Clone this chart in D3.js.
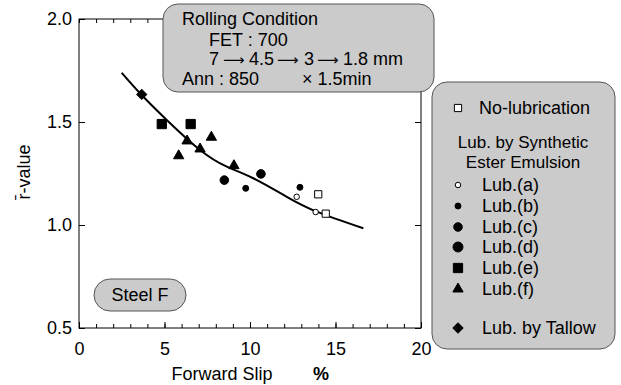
<!DOCTYPE html>
<html>
<head>
<meta charset="utf-8">
<title>r-value vs forward slip</title>
<script src="https://cdn.jsdelivr.net/npm/d3@7"></script>
<style>
  body { margin: 0; background: #fff; }
  svg { display: block; font-family: "Liberation Sans", Arial, sans-serif; }
  .box { fill: #cbcbcb; stroke: #555; stroke-width: 1; }
  .arrow { font-family: "DejaVu Sans", sans-serif; font-size: 15px; }
</style>
</head>
<body>
<script>
// data: [forward slip %, r-value]
var noLub = [[13.99, 1.149], [14.43, 1.055]];
var lubA = [[12.73, 1.137], [13.84, 1.063]];
var lubB = [[9.75, 1.178], [12.92, 1.183]];
var lubC = [[8.5, 1.218], [10.64, 1.248]];
var lubE = [[4.84, 1.49], [6.53, 1.49]];
var lubF = [[5.83, 1.336], [6.32, 1.408], [7.08, 1.369], [7.74, 1.426], [9.06, 1.288]];
var tallow = [[3.67, 1.634]];
// fitted curve as drawn
var fitCurve = [[2.5, 1.739], [3.61, 1.636], [5.13, 1.51], [7.08, 1.364], [8.64, 1.283],
                [10.19, 1.227], [12.15, 1.137], [13.9, 1.065], [16.63, 0.984]];

var xTicks = [0, 5, 10, 15, 20];
var yTicks = [0.5, 1.0, 1.5, 2.0];
var passes = ["7", "4.5", "3", "1.8 mm"];
var legendLabels = ["No-lubrication", "Lub.(a)", "Lub.(b)", "Lub.(c)", "Lub.(d)", "Lub.(e)", "Lub.(f)", "Lub. by Tallow"];

var svg = d3.select("body").append("svg").attr("width", 621).attr("height", 385);

var x = d3.scaleLinear().domain([0, 20]).range([79, 421]);
var y = d3.scaleLinear().domain([0.5, 2.0]).range([328, 19]);

// frame
svg.append("rect").attr("x", 79).attr("y", 19).attr("width", 342).attr("height", 309)
  .attr("fill", "none").attr("stroke", "#000").attr("stroke-width", 1);

function style(g) {
  g.select(".domain").remove();
  g.selectAll("text").attr("font-size", 18).attr("font-family", "Liberation Sans, Arial, sans-serif").attr("fill", "#000");
  g.selectAll("line").attr("stroke", "#000");
}

// bottom minor + major
svg.append("g").attr("transform", "translate(0,328)")
  .call(d3.axisBottom(x).tickValues(d3.range(0, 21)).tickSize(-4).tickFormat(""))
  .call(style);
svg.append("g").attr("transform", "translate(0,328)")
  .call(d3.axisBottom(x).tickValues(xTicks).tickSize(-6).tickPadding(14).tickFormat(d3.format("d")))
  .call(style);
// top minor
svg.append("g").attr("transform", "translate(0,19)")
  .call(d3.axisTop(x).tickValues(d3.range(0, 21)).tickSize(-4).tickFormat(""))
  .call(style);
// left and right
svg.append("g").attr("transform", "translate(79,0)")
  .call(d3.axisLeft(y).tickValues(yTicks).tickSize(-6).tickPadding(7).tickFormat(d3.format(".1f")))
  .call(style);
svg.append("g").attr("transform", "translate(421,0)")
  .call(d3.axisRight(y).tickValues(yTicks).tickSize(-6).tickFormat(""))
  .call(style);

// axis titles
svg.append("text").attr("x", 222).attr("y", 380).attr("text-anchor", "middle")
  .attr("font-size", 18).text("Forward Slip");
svg.append("text").attr("x", 313).attr("y", 380).attr("font-size", 18)
  .attr("font-weight", "bold").text("%");
svg.append("text").attr("transform", "translate(30,172) rotate(-90)").attr("text-anchor", "middle")
  .attr("font-size", 18).text("r\u0304-value");

// fitted curve
svg.append("path").datum(fitCurve)
  .attr("d", d3.line().x(function(d) { return x(d[0]); }).y(function(d) { return y(d[1]); }).curve(d3.curveNatural))
  .attr("fill", "none").attr("stroke", "#000").attr("stroke-width", 2);

// markers
function sym(type, size, open, rot) {
  return { path: d3.symbol().type(type).size(size)(), open: open, rot: rot || 0 };
}
var mk = {
  noLub: sym(d3.symbolSquare, 52, true),
  a: sym(d3.symbolCircle, 24, true),
  b: sym(d3.symbolCircle, 28, false),
  c: sym(d3.symbolCircle, 58, false),
  d: sym(d3.symbolCircle, 78, false),
  e: sym(d3.symbolSquare, 86, false),
  f: sym(d3.symbolTriangle, 46, false),
  tallow: sym(d3.symbolSquare, 50, false, 45)
};

function drawPoints(data, m) {
  svg.append("g").selectAll("path").data(data).enter().append("path")
    .attr("d", m.path)
    .attr("transform", function(d) { return "translate(" + x(d[0]) + "," + y(d[1]) + ") rotate(" + m.rot + ")"; })
    .attr("fill", m.open ? "#fff" : "#000")
    .attr("stroke", "#000").attr("stroke-width", 1);
}
drawPoints(lubC, mk.c);
drawPoints(lubB, mk.b);
drawPoints(lubF, mk.f);
drawPoints(lubE, mk.e);
drawPoints(tallow, mk.tallow);
drawPoints(lubA, mk.a);
drawPoints(noLub, mk.noLub);

// rolling condition box
svg.append("rect").attr("class", "box").attr("x", 163).attr("y", 4).attr("width", 271).attr("height", 88).attr("rx", 15);
svg.append("text").attr("x", 182).attr("y", 25).attr("font-size", 18).text("Rolling Condition");
svg.append("text").attr("x", 209).attr("y", 46).attr("font-size", 18).text("FET : 700");
var passX = [209, 249, 304, 343], arrowX = [223, 277, 317];
var passLine = svg.append("text").attr("y", 65).attr("font-size", 18);
passes.forEach(function(p, i) {
  if (i > 0) passLine.append("tspan").attr("class", "arrow").attr("x", arrowX[i - 1]).text("\u27f6");
  passLine.append("tspan").attr("x", passX[i]).text(p);
});
svg.append("text").attr("x", 182).attr("y", 85).attr("font-size", 18).text("Ann : 850");
svg.append("text").attr("x", 302).attr("y", 85).attr("font-size", 18).text("\u00d7 1.5min");

// legend box
svg.append("rect").attr("class", "box").attr("x", 432).attr("y", 82).attr("width", 183).attr("height", 267).attr("rx", 15);
var legMarks = [mk.noLub, mk.a, mk.b, mk.c, mk.d, mk.e, mk.f, mk.tallow];
var legY = [108, 185, 206, 227, 247, 268, 289, 328];
var leg = svg.append("g").selectAll("g").data(legendLabels).enter().append("g")
  .attr("transform", function(d, i) { return "translate(0," + legY[i] + ")"; });
leg.append("path")
  .attr("d", function(d, i) { return legMarks[i].path; })
  .attr("transform", function(d, i) { return "translate(458,0) rotate(" + legMarks[i].rot + ")"; })
  .attr("fill", function(d, i) { return legMarks[i].open ? "#fff" : "#000"; })
  .attr("stroke", "#000");
leg.append("text").attr("x", function(d, i) { return i === 0 ? 479 : 482; })
  .attr("dy", "0.35em").attr("font-size", 18).text(function(d) { return d; });
svg.append("text").attr("x", 523).attr("y", 142).attr("dy", "0.35em").attr("text-anchor", "middle")
  .attr("font-size", 17).text("Lub. by Synthetic");
svg.append("text").attr("x", 523).attr("y", 162).attr("dy", "0.35em").attr("text-anchor", "middle")
  .attr("font-size", 17).text("Ester Emulsion");

// steel label
svg.append("rect").attr("class", "box").attr("x", 94).attr("y", 279).attr("width", 92).attr("height", 32).attr("rx", 16);
svg.append("text").attr("x", 140).attr("y", 295).attr("dy", "0.35em").attr("text-anchor", "middle")
  .attr("font-size", 18).text("Steel F");
</script>
</body>
</html>
